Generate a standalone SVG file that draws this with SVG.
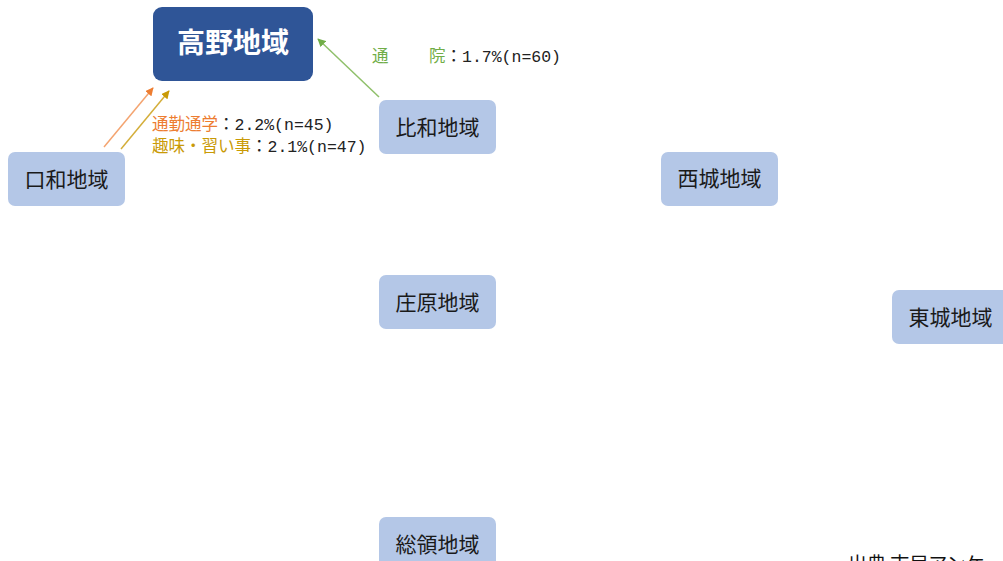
<svg xmlns="http://www.w3.org/2000/svg" width="1003" height="561" viewBox="0 0 1003 561">
<style>
.n{fill:#B4C7E7}
.t{font-family:"Noto Sans CJK JP","Noto Sans CJK SC",sans-serif;font-size:21px;fill:#1a1a1a;text-anchor:middle}
.lb{font-family:"Noto Sans CJK JP",sans-serif;font-size:16.5px;fill:#222}
.m{font-family:"Liberation Mono","Noto Sans CJK JP",monospace;font-size:16.5px;fill:#222}
</style>
<defs>
<marker id="ao" viewBox="0 0 10 10" refX="9" refY="5" markerWidth="5.5" markerHeight="5.5" orient="auto" markerUnits="strokeWidth"><path d="M0,0L10,5L0,10z" fill="#ED7D31"/></marker>
<marker id="ag" viewBox="0 0 10 10" refX="9" refY="5" markerWidth="5.5" markerHeight="5.5" orient="auto" markerUnits="strokeWidth"><path d="M0,0L10,5L0,10z" fill="#C99A06"/></marker>
<marker id="ae" viewBox="0 0 10 10" refX="9" refY="5" markerWidth="5.5" markerHeight="5.5" orient="auto" markerUnits="strokeWidth"><path d="M0,0L10,5L0,10z" fill="#70AD47"/></marker>
</defs>
<rect width="1003" height="561" fill="#fff"/>
<g id="connectors" fill="none">
<line x1="104" y1="147" x2="153" y2="88" stroke="#F4A470" stroke-width="1.5" marker-end="url(#ao)"/>
<line x1="121" y1="149" x2="169" y2="91" stroke="#D4AE3A" stroke-width="1.5" marker-end="url(#ag)"/>
<line x1="379" y1="97" x2="318" y2="39" stroke="#8FC06A" stroke-width="1.5" marker-end="url(#ae)"/>
</g>
<g id="takano"><rect x="153" y="7" width="160" height="74" rx="9" fill="#2F5597"/><text x="233" y="53" style="font-family:'Noto Sans CJK JP',sans-serif;font-size:28px;font-weight:bold;fill:#fff;text-anchor:middle">高野地域</text></g>
<g id="hiwa"><rect class="n" x="379" y="100" width="117" height="54" rx="7"/><text class="t" x="437.5" y="135">比和地域</text></g>
<g id="kuchiwa"><rect class="n" x="8" y="152" width="117" height="54" rx="7"/><text class="t" x="66.5" y="187">口和地域</text></g>
<g id="saijo"><rect class="n" x="661" y="152" width="117" height="54" rx="7"/><text class="t" x="719.5" y="186">西城地域</text></g>
<g id="shobara"><rect class="n" x="379" y="275" width="117" height="54" rx="7"/><text class="t" x="437.5" y="310">庄原地域</text></g>
<g id="tojo"><rect class="n" x="892" y="290" width="125" height="54" rx="7"/><text class="t" x="950.5" y="325">東城地域</text></g>
<g id="soryo"><rect class="n" x="379" y="517" width="117" height="54" rx="7"/><text class="t" x="437.5" y="552">総領地域</text></g>
<g id="labels">
<text x="152" y="130"><tspan class="lb" style="fill:#ED7D31">通勤通学</tspan><tspan class="lb">：</tspan><tspan class="m">2.2%(n=45)</tspan></text>
<text x="152" y="152"><tspan class="lb" style="fill:#C99A06">趣味・習い事</tspan><tspan class="lb">：</tspan><tspan class="m">2.1%(n=47)</tspan></text>
<text x="372" y="62" class="lb" style="fill:#70AD47">通</text>
<text x="429" y="62"><tspan class="lb" style="fill:#70AD47">院</tspan><tspan class="lb">：</tspan><tspan class="m">1.7%(n=60)</tspan></text>
<text x="848" y="571" style="font-family:'Noto Sans CJK JP',sans-serif;font-size:19px;fill:#111">出典 市民アンケート</text>
</g>
</svg>
